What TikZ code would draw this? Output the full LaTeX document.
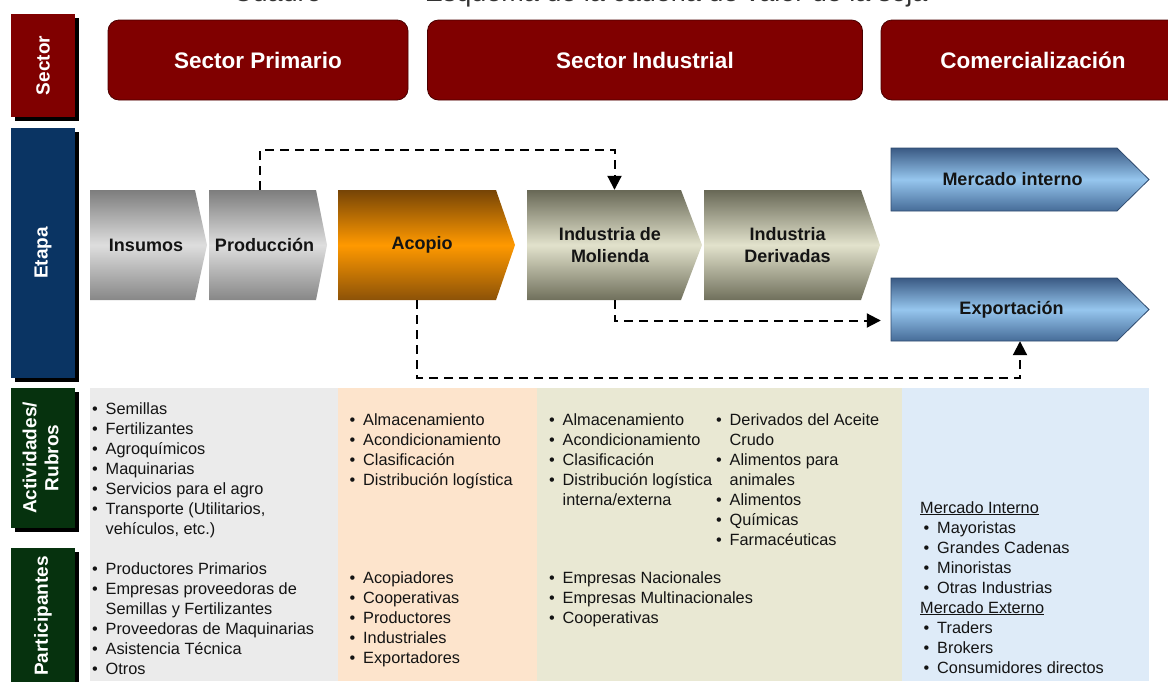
\documentclass[tikz,border=0pt]{standalone}
\usepackage{fontspec}
\setmainfont{Liberation Sans}
\usetikzlibrary{arrows.meta,calc,shadows}

\definecolor{sectred}{HTML}{800000}
\definecolor{sectredline}{HTML}{4A0000}
\definecolor{etapablue}{HTML}{0A3463}
\definecolor{rubgreen}{HTML}{06320E}
\definecolor{pgray}{HTML}{EBEBEB}
\definecolor{ppeach}{HTML}{FDE4CC}
\definecolor{pkhaki}{HTML}{E9E8D3}
\definecolor{pblue}{HTML}{DEEBF8}
\definecolor{txt}{HTML}{141414}
\definecolor{blueedge}{HTML}{2E4A6E}

\tikzset{
  sidebox/.style={draw=none, inner sep=0pt, text=white,
    font=\bfseries\fontsize{19}{22}\selectfont,
    minimum width=64, drop shadow={shadow xshift=4pt, shadow yshift=-4pt, opacity=1, fill=black}},
  hdrbox/.style={fill=sectred, draw=sectredline, line width=0.8pt, rounded corners=11pt,
    text=white, font=\bfseries\fontsize{22.5}{27}\selectfont, minimum height=80, inner sep=0pt},
  chevlabel/.style={text=txt, align=center, inner sep=0pt,
    font=\bfseries\fontsize{18}{21.5}\selectfont},
  % the middle colour is set last, otherwise the bottom colour overrides it
  grayshade/.style={top color={rgb,255:red,125;green,125;blue,125},
    bottom color={rgb,255:red,135;green,135;blue,135},
    middle color={rgb,255:red,222;green,222;blue,222}},
  orangeshade/.style={top color={rgb,255:red,118;green,68;blue,6},
    bottom color={rgb,255:red,140;green,82;blue,8},
    middle color={rgb,255:red,255;green,153;blue,0}},
  oliveshade/.style={top color={rgb,255:red,104;green,104;blue,86},
    bottom color={rgb,255:red,112;green,112;blue,92},
    middle color={rgb,255:red,226;green,226;blue,204}},
  blueshade/.style={top color={rgb,255:red,58;green,90;blue,132},
    bottom color={rgb,255:red,70;green,108;blue,152},
    middle color={rgb,255:red,150;green,198;blue,238}, draw=blueedge, line width=0.8pt},
  listtext/.style={anchor=base west, inner sep=0pt, text=txt,
    font=\fontsize{16.3}{20}\selectfont},
  flow/.style={line width=2pt, dash pattern=on 9pt off 6pt,
    -{Triangle[width=14pt,length=14pt]}},
}

% chevron: name, shading, left x, body right x, tip x, top y, bottom y
\newcommand\chevron[7]{%
  \coordinate (#1-nw) at (#3,#6);
  \coordinate (#1-ne) at (#4,#6);
  \coordinate (#1-tip) at (#5,{(#6+#7)/2});
  \coordinate (#1-se) at (#4,#7);
  \coordinate (#1-sw) at (#3,#7);
  \shade[#2] (#1-nw) -- (#1-ne) -- (#1-tip) -- (#1-se) -- (#1-sw) -- cycle;
  \node[inner sep=0pt, minimum width={#5-#3}, minimum height={#7-#6}] (#1)
    at ({(#3+#5)/2},{(#6+#7)/2}) {};
}

\newcommand\bu{\textbullet}

\begin{document}
\begin{tikzpicture}[x=1pt, y=-1pt]
\useasboundingbox (0,0) rectangle (1168,681);
\clip (0,0) rectangle (1168,681);

% caption line, mostly above the frame
\node[anchor=base west, inner sep=0pt, text=black!80, font=\fontsize{27}{30}\selectfont]
  (caption) at (233,1) {Cuadro\hspace{103pt}Esquema de la cadena de valor de la soja};

% row labels on the left
\node[sidebox, fill=sectred, minimum height=103] (lab-sector) at (43,65.5) {\rotatebox{90}{Sector}};
\node[sidebox, fill=etapablue, minimum height=250] (lab-etapa) at (43,253) {\rotatebox{90}{Etapa}};
\node[sidebox, fill=rubgreen, minimum height=140] (lab-rubros) at (43,458)
  {\rotatebox{90}{\begin{tabular}{@{}c@{}}Actividades/\\Rubros\end{tabular}}};
\node[sidebox, fill=rubgreen, minimum height=136] (lab-part) at (43,616) {\rotatebox{90}{Participantes}};

% sector headers
\node[hdrbox, minimum width=300] (hdr-prim) at (258,60) {Sector Primario};
\node[hdrbox, minimum width=435] (hdr-ind) at (645,60) {Sector Industrial};
\node[hdrbox, minimum width=304] (hdr-com) at (1033,60) {Comercialización};

% column backgrounds
\fill[pgray]  (90,388) rectangle (338,681);
\fill[ppeach] (338,388) rectangle (537,681);
\fill[pkhaki] (537,388) rectangle (902,681);
\fill[pblue]  (902,388) rectangle (1149,681);

% stages
\chevron{insumos}{grayshade}{90}{195}{207}{190}{300}
\chevron{prod}{grayshade}{209}{316}{327}{190}{300}
\chevron{acopio}{orangeshade}{338}{496}{515}{190}{300}
\chevron{molienda}{oliveshade}{527}{681}{702}{190}{300}
\chevron{deriv}{oliveshade}{704}{861}{880}{190}{300}
\chevron{merc}{blueshade}{891}{1117}{1149}{148}{211}
\chevron{expo}{blueshade}{891}{1117}{1149}{278}{341}

\node[chevlabel] (insumos-txt) at ([xshift=-2.5pt]insumos.center) {Insumos};
\node[chevlabel] (prod-txt) at ([xshift=-3.5pt]prod.center) {Producción};
\node[chevlabel] (acopio-txt) at ([xshift=-4.5pt]acopio.center) {Acopio};
\node[chevlabel] (molienda-txt) at ([xshift=-4.5pt]molienda.center) {Industria de\\Molienda};
\node[chevlabel] (deriv-txt) at ([xshift=-4.5pt]deriv.center) {Industria\\Derivadas};
\node[chevlabel] (merc-txt) at ([xshift=-7.5pt]merc.center) {Mercado interno};
\node[chevlabel] (expo-txt) at ([xshift=-8.5pt]expo.center) {Exportación};

% dashed flows between stages
\draw[flow] ([xshift=-8pt]prod.north) -- ++(0,-40) -| (molienda.north);
\draw[flow] (molienda.south) |- ($(expo.west)+(-10,11)$);
\draw[flow] ([xshift=-9.5pt]acopio.south) -- ++(0,78) -| (expo.south);

% activities
\node[listtext] (act-prim) at (92,414) {\begin{tabular}[t]{@{}l@{\hspace{7.8pt}}l@{}}
\bu & Semillas\\ \bu & Fertilizantes\\ \bu & Agroquímicos\\ \bu & Maquinarias\\
\bu & Servicios para el agro\\ \bu & Transporte (Utilitarios,\\ & vehículos, etc.)
\end{tabular}};
\node[listtext] (act-acop) at (349.5,425) {\begin{tabular}[t]{@{}l@{\hspace{7.8pt}}l@{}}
\bu & Almacenamiento\\ \bu & Acondicionamiento\\ \bu & Clasificación\\ \bu & Distribución logística
\end{tabular}};
\node[listtext] (act-ind1) at (549,425) {\begin{tabular}[t]{@{}l@{\hspace{7.8pt}}l@{}}
\bu & Almacenamiento\\ \bu & Acondicionamiento\\ \bu & Clasificación\\ \bu & Distribución logística\\
 & interna/externa
\end{tabular}};
\node[listtext] (act-ind2) at (716,425) {\begin{tabular}[t]{@{}l@{\hspace{7.8pt}}l@{}}
\bu & Derivados del Aceite\\ & Crudo\\ \bu & Alimentos para\\ & animales\\ \bu & Alimentos\\
\bu & Químicas\\ \bu & Farmacéuticas
\end{tabular}};
\node[listtext] (act-com) at (920,513) {\begin{tabular}[t]{@{}l@{\hspace{7.8pt}}l@{}}
\multicolumn{2}{@{}l@{}}{\underline{Mercado Interno}}\\
\hspace*{3.5pt}\bu & Mayoristas\\ \hspace*{3.5pt}\bu & Grandes Cadenas\\
\hspace*{3.5pt}\bu & Minoristas\\ \hspace*{3.5pt}\bu & Otras Industrias\\
\multicolumn{2}{@{}l@{}}{\underline{Mercado Externo}}\\
\hspace*{3.5pt}\bu & Traders\\ \hspace*{3.5pt}\bu & Brokers\\ \hspace*{3.5pt}\bu & Consumidores directos
\end{tabular}};

% participants
\node[listtext] (part-prim) at (92,574) {\begin{tabular}[t]{@{}l@{\hspace{7.8pt}}l@{}}
\bu & Productores Primarios\\ \bu & Empresas proveedoras de\\ & Semillas y Fertilizantes\\
\bu & Proveedoras de Maquinarias\\ \bu & Asistencia Técnica\\ \bu & Otros
\end{tabular}};
\node[listtext] (part-acop) at (349.5,583) {\begin{tabular}[t]{@{}l@{\hspace{7.8pt}}l@{}}
\bu & Acopiadores\\ \bu & Cooperativas\\ \bu & Productores\\ \bu & Industriales\\ \bu & Exportadores
\end{tabular}};
\node[listtext] (part-ind) at (549,583) {\begin{tabular}[t]{@{}l@{\hspace{7.8pt}}l@{}}
\bu & Empresas Nacionales\\ \bu & Empresas Multinacionales\\ \bu & Cooperativas
\end{tabular}};

\end{tikzpicture}
\end{document}
